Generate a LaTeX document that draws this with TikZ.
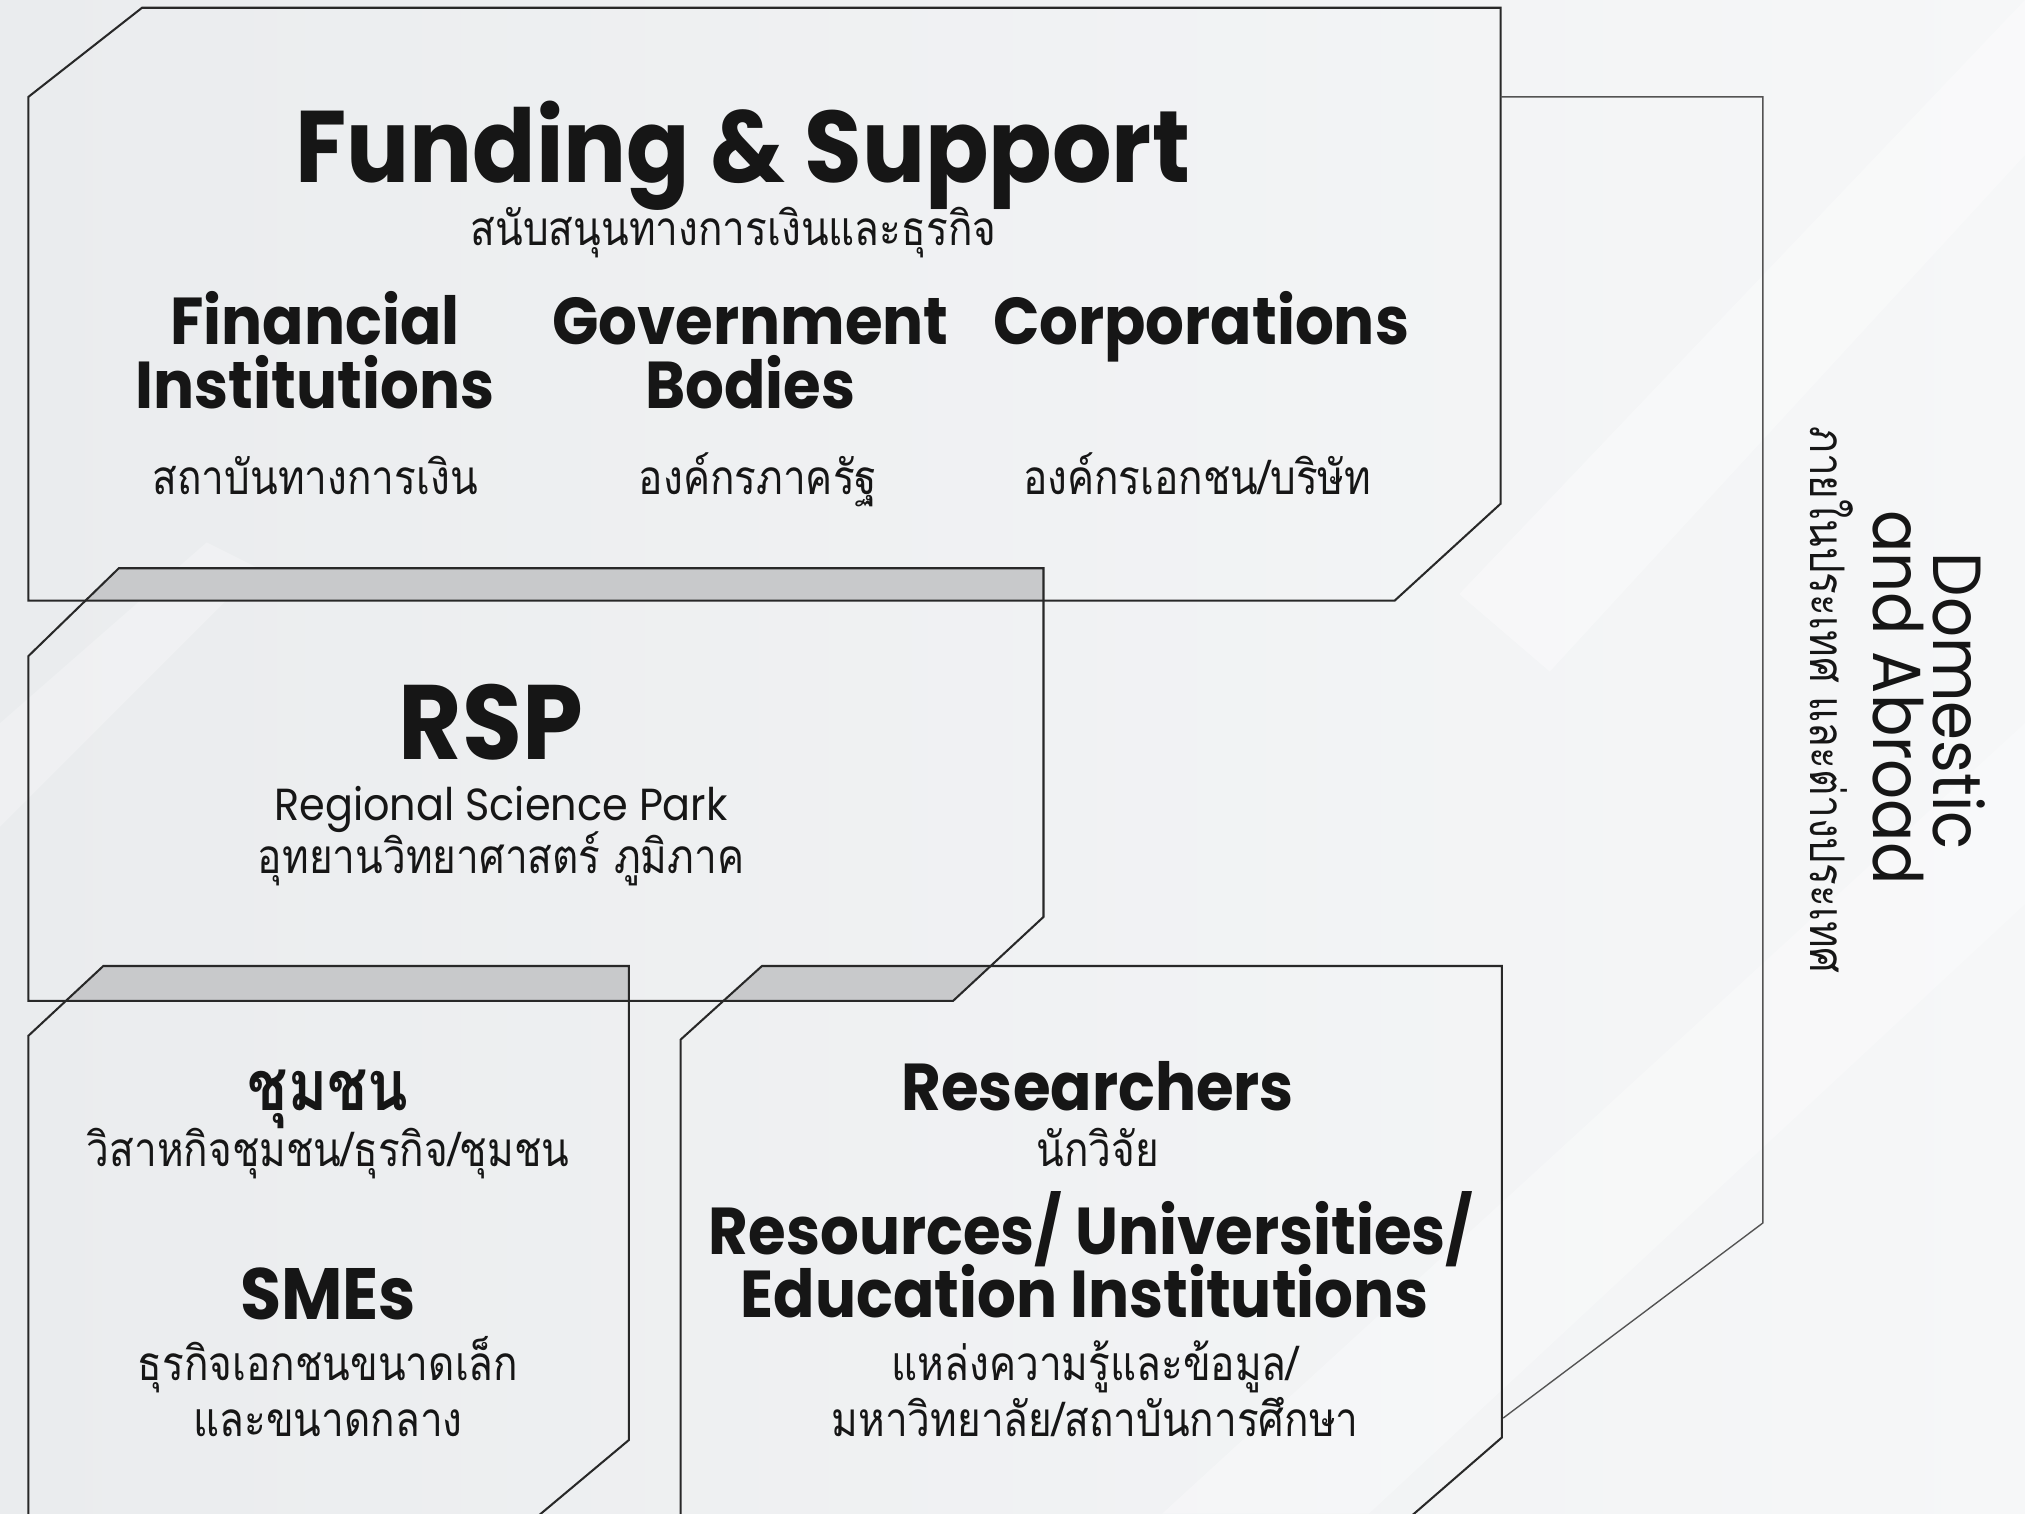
\documentclass[tikz,border=0pt]{standalone}
\usepackage{fontspec}
\setmainfont{Poppins}[FakeStretch=0.92]
\newfontfamily\thai[Script=Thai, FakeStretch=0.85]{Loma}
\usetikzlibrary{positioning}
\definecolor{bgl}{RGB}{234,236,238}
\definecolor{bgr}{RGB}{246,247,248}
\definecolor{ln}{RGB}{40,40,40}
\definecolor{ov}{RGB}{200,201,203}
\definecolor{txt}{RGB}{22,22,22}

% outlines of the four panels
\def\fundpanel{(22,75) -- (110,6) -- (1162,6) -- (1162,390) -- (1080,465) -- (22,465) -- cycle}
\def\rsppanel{(92,440) -- (808,440) -- (808,710) -- (738,775) -- (22,775) -- (22,508) -- cycle}
\def\commpanel{(80,748) -- (487,748) -- (487,1115) -- (395,1192) -- (22,1192) -- (22,802) -- cycle}
\def\respanel{(590,748) -- (1163,748) -- (1163,1113) -- (1072,1192) -- (527,1192) -- (527,805) -- cycle}

\begin{document}
\begin{tikzpicture}[x=0.01cm, y=-0.01cm,
    panel/.style={draw=ln, line width=0.45pt},
    title/.style={font=\bfseries\fontsize{22.4}{22}\selectfont, text=txt, anchor=base, inner sep=0pt},
    head/.style={font=\bfseries\fontsize{14.6}{14}\selectfont, text=txt, anchor=base, inner sep=0pt},
    sub/.style={font=\thai\fontsize{10.5}{10.5}\selectfont, text=txt, anchor=base, inner sep=0pt},
    eng/.style={font=\fontsize{9.9}{9.9}\selectfont, text=txt, anchor=base, inner sep=0pt}]
    \useasboundingbox (0,0) rectangle (1568,1172);
    \clip (0,0) rectangle (1568,1172);
    \shade[left color=bgl, right color=bgr] (0,0) rectangle (1568,1172);
    % faint background streaks
    \fill[white, opacity=0.35] (1130,460) -- (1568,0) -- (1568,120) -- (1200,520) -- cycle;
    \fill[white, opacity=0.3] (900,1172) -- (1568,560) -- (1568,700) -- (1060,1172) -- cycle;
    \fill[white, opacity=0.25] (0,560) -- (160,420) -- (200,440) -- (0,640) -- cycle;

    % overlaps
    \begin{scope}
        \clip \fundpanel;
        \fill[ov] \rsppanel;
    \end{scope}
    \begin{scope}
        \clip \rsppanel;
        \fill[ov] \commpanel;
        \fill[ov] \respanel;
    \end{scope}

    \draw[panel] \fundpanel;
    \draw[panel] \rsppanel;
    \draw[panel] \commpanel;
    \draw[panel] \respanel;
    \draw[draw=ln!80, line width=0.3pt] (1162,75) -- (1365,75) -- (1365,947) -- (1164,1098);

    % funding & support
    \node[title] (fund) at (575,141) {Funding \& Support};
    \node[sub] (fundth) at (568,190) {สนับสนุนทางการเงินและธุรกิจ};
    \node[head] (fin1) at (244,267) {Financial};
    \node[head] (fin2) at (244,316) {Institutions};
    \node[head] (gov1) at (581,267) {Government};
    \node[head] (gov2) at (581,316) {Bodies};
    \node[head] (corp) at (930,267) {Corporations};
    \node[sub] (finth) at (244,383) {สถาบันทางการเงิน};
    \node[sub] (govth) at (587,383) {องค์กรภาครัฐ};
    \node[sub] (corpth) at (927,383) {องค์กรเอกชน/บริษัท};

    % science park
    \node[title, font=\bfseries\fontsize{23.3}{23}\selectfont] (rsp) at (380,588) {RSP};
    \node[eng] (rspen) at (388,635) {Regional Science Park};
    \node[sub] (rspth) at (388,676) {อุทยานวิทยาศาสตร์ ภูมิภาค};

    % community and smes
    \node[head, font=\thai\bfseries\fontsize{15.4}{15}\selectfont] (comm) at (254,860) {ชุมชน};
    \node[sub] (commth) at (254,903) {วิสาหกิจชุมชน/ธุรกิจ/ชุมชน};
    \node[head, font=\bfseries\fontsize{16}{16}\selectfont] (sme) at (254,1022) {SMEs};
    \node[sub] (sme1) at (254,1069) {ธุรกิจเอกชนขนาดเล็ก};
    \node[sub] (sme2) at (254,1112) {และขนาดกลาง};

    % researchers and universities
    \node[head] (res) at (850,860) {Researchers};
    \node[sub] (resth) at (850,903) {นักวิจัย};
    \node[head] (uni1) at (845,971) {Resources/ Universities/};
    \node[head] (uni2) at (840,1020) {Education Institutions};
    \node[sub] (uni3) at (848,1069) {แหล่งความรู้และข้อมูล/};
    \node[sub] (uni4) at (848,1112) {มหาวิทยาลัย/สถาบันการศึกษา};

    % side label
    \node[eng, font=\fontsize{15}{15}\selectfont, rotate=-90] (dom1) at (1497,543) {Domestic};
    \node[eng, font=\fontsize{15}{15}\selectfont, rotate=-90] (dom2) at (1451,540) {and Abroad};
    \node[sub, rotate=-90] (domth) at (1402,542) {ภายในประเทศ และต่างประเทศ};
\end{tikzpicture}
\end{document}
